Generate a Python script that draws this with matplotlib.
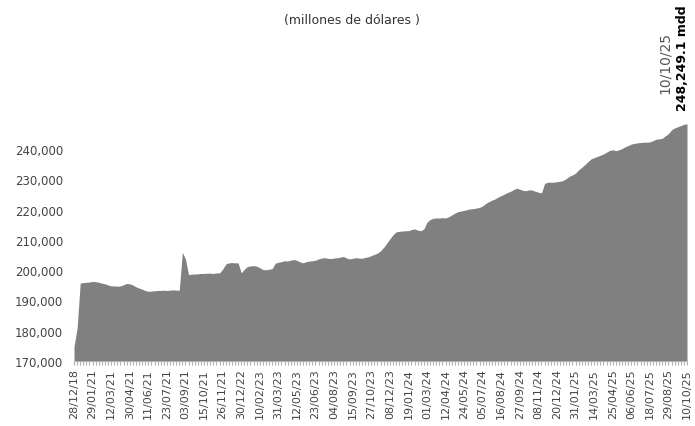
import numpy as np
import matplotlib
matplotlib.use("Agg")
import matplotlib.pyplot as plt
from matplotlib.ticker import FuncFormatter, MultipleLocator

# reservas internacionales, millones de dolares (lectura aproximada de la grafica)
reservas = [
    174800, 180900, 195700, 195900, 196000, 196100, 196300, 196200, 196000, 195700,
    195500, 195100, 194800, 194800, 194700, 194800, 195200, 195600, 195500, 195100,
    194500, 194100, 193700, 193300, 193000, 193100, 193200, 193300, 193300, 193400,
    193300, 193400, 193500, 193400, 193400, 205900, 203600, 198500, 198700, 198700,
    198800, 198900, 198900, 199000, 199000, 198900, 199100, 199100, 200300, 202000,
    202400, 202500, 202400, 202400, 199100, 200300, 201200, 201400, 201500, 201300,
    200800, 200200, 200100, 200300, 200500, 202300, 202600, 202800, 203100, 203000,
    203300, 203500, 203200, 202700, 202400, 202800, 203000, 203100, 203300, 203700,
    204000, 204100, 203900, 203800, 204000, 204100, 204300, 204500, 204000, 203700,
    203900, 204100, 204000, 203900, 204200, 204400, 204800, 205200, 205600, 206400,
    207500, 208900, 210300, 211600, 212600, 212800, 212900, 213000, 213000, 213400,
    213600, 213200, 213000, 213600, 215800, 216700, 217100, 217200, 217200, 217300,
    217200, 217600, 218200, 218800, 219300, 219500, 219700, 220000, 220200, 220300,
    220500, 220700, 221200, 222000, 222600, 223100, 223500, 224100, 224600, 225100,
    225600, 226000, 226600, 227000, 226700, 226300, 226200, 226500, 226400, 226000,
    225700, 225500, 228600, 229000, 229000, 229000, 229200, 229300, 229600, 230200,
    231000, 231400, 232000, 233100, 233900, 234800, 235800, 236700, 237100, 237500,
    237900, 238300, 238900, 239500, 239700, 239400, 239700, 240100, 240700, 241100,
    241600, 241800, 242000, 242100, 242200, 242200, 242300, 242700, 243200, 243300,
    243500, 244300, 245000, 246300, 246900, 247300, 247700, 248100, 248249.1,
]

# etiquetas del eje x (una cada 6 observaciones)
etiquetas = [
    "28/12/18", "29/01/21", "12/03/21", "30/04/21", "11/06/21", "23/07/21",
    "03/09/21", "15/10/21", "26/11/21", "30/12/22", "10/02/23", "31/03/23",
    "12/05/23", "23/06/23", "04/08/23", "15/09/23", "27/10/23", "08/12/23",
    "19/01/24", "01/03/24", "12/04/24", "24/05/24", "05/07/24", "16/08/24",
    "27/09/24", "08/11/24", "20/12/24", "31/01/25", "14/03/25", "25/04/25",
    "06/06/25", "18/07/25", "29/08/25", "10/10/25",
]
paso = 6

titulo = "(millones de dólares )"
fecha_final = "10/10/25"
valor_final = "248,249.1 mdd"

x = np.arange(len(reservas))
y = np.array(reservas)

fig = plt.figure(figsize=(6.95, 4.27), dpi=100)
ax = fig.add_axes([0.1065, 0.152, 0.882, 0.568])

ax.fill_between(x, 170000, y, color="#808080", linewidth=0)
ax.set_xlim(0, len(reservas) - 1)
ax.set_ylim(170000, 250000)

for s in ax.spines.values():
    s.set_visible(False)

ax.set_yticks(np.arange(170000, 240001, 10000))
ax.yaxis.set_major_formatter(FuncFormatter(lambda v, p: f"{int(v):,}"))
ax.tick_params(axis="y", length=0, pad=8, labelsize=8.5, labelcolor="#444444")

ax.set_xticks(x[::paso])
ax.set_xticklabels(etiquetas, rotation=90, fontsize=8, color="#444444")
ax.xaxis.set_minor_locator(MultipleLocator(1))
ax.tick_params(axis="x", which="both", length=3, width=0.8, color="#b0b0b0", pad=2)

fig.text(0.507, 0.953, titulo, ha="center", va="center", fontsize=9, color="#333333")

ax.annotate(valor_final, xy=(x[-1], y[-1]), xytext=(-5, 14), textcoords="offset pixels",
            rotation=90, ha="center", va="bottom", fontsize=9, fontweight="bold", color="black")
ax.annotate(fecha_final, xy=(x[-1], y[-1]), xytext=(-22, 31), textcoords="offset pixels",
            rotation=90, ha="center", va="bottom", fontsize=10, color="#555555")

fig.savefig("out.png", dpi=100)
